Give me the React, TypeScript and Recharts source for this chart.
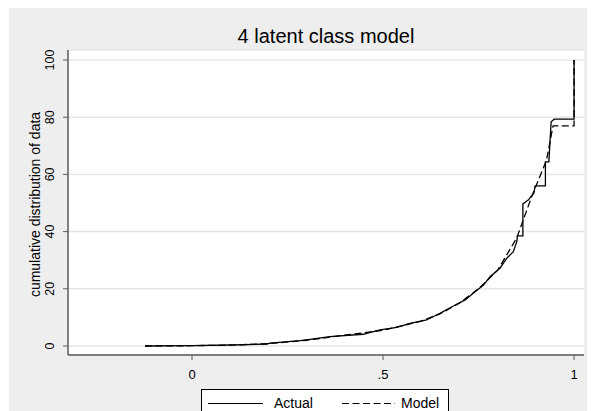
import React from 'react';
import { LineChart, Line, XAxis, YAxis, CartesianGrid } from 'recharts';

const chartTitle = '4 latent class model';
const yAxisTitle = 'cumulative distribution of data';
const seriesNames = ['Actual', 'Model'];

const actualX = [-0.123, 0.0, 0.1, 0.195, 0.205, 0.283, 0.309, 0.361, 0.448, 0.492, 0.536, 0.571, 0.614, 0.632, 0.649, 0.684, 0.715, 0.736, 0.763, 0.78, 0.806, 0.824, 0.841, 0.85, 0.852, 0.866, 0.866, 0.88, 0.895, 0.898, 0.925, 0.925, 0.934, 0.94, 0.948, 1.0, 1.0];
const actualY = [0, 0.1, 0.35, 0.7, 1.0, 1.85, 2.3, 3.25, 4.1, 5.6, 6.5, 7.9, 9.1, 10.3, 11.4, 14.0, 16.1, 18.4, 21.3, 24.2, 27.2, 30.7, 33, 36.5, 38.5, 38.5, 49.7, 51, 53.5, 56, 56, 64.4, 64.4, 78.4, 79.3, 79.3, 100];

const modelX = [-0.123, 0, 0.1, 0.2, 0.3, 0.4, 0.5, 0.6, 0.65, 0.7, 0.75, 0.8, 0.85, 0.889, 0.928, 0.945, 1.0, 1.0];
const modelY = [0, 0.1, 0.3, 0.8, 2.0, 3.8, 5.5, 8.7, 11.3, 15, 20, 26.5, 37.8, 52.2, 65, 77, 77, 100];

const yTicks = [0, 20, 40, 60, 80, 100];
const xTicks = [0, 0.5, 1];
const xTickLabels = ['0', '.5', '1'];

const actualData = actualX.map((x, i) => ({ x, y: actualY[i] }));
const modelData = modelX.map((x, i) => ({ x, y: modelY[i] }));

const FONT = '"Liberation Sans", Arial, sans-serif';

const YTick = (props: any) => {
  const { x, y, payload } = props;
  const cx = x - 13;
  return (
    <text
      x={cx}
      y={y}
      transform={`rotate(-90, ${cx}, ${y})`}
      textAnchor="middle"
      dominantBaseline="central"
      fontSize={12.5}
      fontFamily={FONT}
      fill="#000"
    >
      {payload.value}
    </text>
  );
};

const XTick = (props: any) => {
  const { x, y, payload } = props;
  const idx = xTicks.indexOf(payload.value);
  return (
    <text
      x={x}
      y={y + 14}
      textAnchor="middle"
      dominantBaseline="central"
      fontSize={13}
      fontFamily={FONT}
      fill="#000"
    >
      {idx >= 0 ? xTickLabels[idx] : payload.value}
    </text>
  );
};

const YTitle = (props: any) => {
  const vb = props.viewBox || {};
  const cx = 27;
  const cy = (vb.y ?? 42) + (vb.height ?? 305) / 2 + 2;
  return (
    <text
      x={cx}
      y={cy}
      transform={`rotate(-90, ${cx}, ${cy})`}
      textAnchor="middle"
      dominantBaseline="central"
      fontSize={14}
      fontFamily={FONT}
      fill="#000"
    >
      {yAxisTitle}
    </text>
  );
};

export default function App() {
  return (
    <div style={{ width: 587, height: 403, position: 'relative', overflow: 'hidden', background: '#fff' }}>
      <div style={{ position: 'absolute', left: 1, top: 0, right: 0, bottom: 0, background: '#eeeeee' }} />
      <div style={{ position: 'absolute', left: 0, top: 0 }}>
        <LineChart width={587} height={403} margin={{ top: 42, right: 11, bottom: 0, left: 0 }}>
          <CartesianGrid horizontal vertical={false} stroke="#e6e6e6" strokeWidth={1.5} fill="#ffffff" />
          <XAxis
            dataKey="x"
            type="number"
            domain={[-0.3246, 1.026]}
            ticks={xTicks}
            allowDataOverflow
            height={56}
            tickSize={5}
            tickMargin={0}
            tick={<XTick />}
            axisLine={{ stroke: '#5a5a5a', strokeWidth: 1.5 }}
            tickLine={{ stroke: '#5a5a5a', strokeWidth: 1 }}
          />
          <YAxis
            dataKey="y"
            type="number"
            domain={[-3.15, 103.5]}
            ticks={yTicks}
            allowDataOverflow
            width={60}
            tickSize={5}
            tickMargin={0}
            tick={<YTick />}
            axisLine={{ stroke: '#5a5a5a', strokeWidth: 1.5 }}
            tickLine={{ stroke: '#5a5a5a', strokeWidth: 1 }}
            label={<YTitle />}
          />
          <Line
            data={actualData}
            dataKey="y"
            name={seriesNames[0]}
            type="linear"
            stroke="#000"
            strokeWidth={1.3}
            dot={false}
            activeDot={false}
            isAnimationActive={false}
          />
          <Line
            data={modelData}
            dataKey="y"
            name={seriesNames[1]}
            type="linear"
            stroke="#000"
            strokeWidth={1.3}
            strokeDasharray="7 3.5"
            dot={false}
            activeDot={false}
            isAnimationActive={false}
          />
        </LineChart>
      </div>
      <div
        style={{
          position: 'absolute',
          left: 60,
          width: 516,
          top: 18,
          textAlign: 'center',
          fontFamily: FONT,
          fontSize: 20,
          lineHeight: '20px',
          color: '#000',
        }}
      >
        {chartTitle}
      </div>
      <div
        style={{
          position: 'absolute',
          left: 193,
          top: 381,
          width: 248,
          height: 40,
          boxSizing: 'border-box',
          border: '1px solid #000',
          background: '#fff',
        }}
      >
        <svg width={246} height={38} style={{ position: 'absolute', left: 0, top: 0 }}>
          <line x1={6} x2={61} y1={13.5} y2={13.5} stroke="#000" strokeWidth={1.2} />
          <text x={72} y={18.3} fontSize={14} fontFamily={FONT} fill="#000">{seriesNames[0]}</text>
          <line x1={140} x2={193} y1={13.5} y2={13.5} stroke="#000" strokeWidth={1.2} strokeDasharray="7 3.5" />
          <text x={199} y={18.3} fontSize={14} fontFamily={FONT} fill="#000">{seriesNames[1]}</text>
        </svg>
      </div>
    </div>
  );
}
